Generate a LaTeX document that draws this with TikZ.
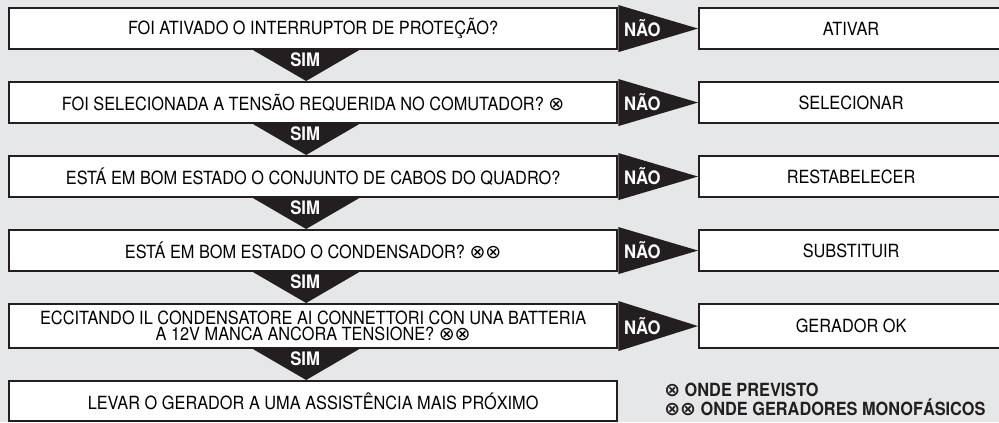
\documentclass[tikz,border=0pt]{standalone}
\usepackage{fontspec}
\setmainfont{TeX Gyre Heros}[FakeStretch=0.9]
\newfontfamily\symbfont{DejaVu Sans}
\usetikzlibrary{calc}

\definecolor{bggray}{HTML}{E6E7E8}
\definecolor{inkblack}{HTML}{231F20}

\newcommand\cross{{\symbfont\fontsize{13.5}{12}\selectfont\char"2297}}

\tikzset{
  question/.style={
    draw=inkblack,
    line width=1.5pt,
    fill=white,
    anchor=north west,
    minimum width=15.2cm,
    minimum height=1.025cm,
    inner sep=0pt,
    align=center,
    font=\fontsize{12.9}{11.6}\selectfont
  },
  action/.style={question, minimum width=7.6cm},
  arrowfill/.style={fill=inkblack},
  arrowlabel/.style={
    text=white,
    inner sep=0pt,
    font=\bfseries\fontsize{13.2}{12}\selectfont
  },
  note/.style={
    anchor=base west,
    inner sep=0pt,
    text=inkblack,
    font=\bfseries\fontsize{12.9}{13}\selectfont
  }
}

\begin{document}
\begin{tikzpicture}[
  x=0.025cm,
  y=-0.025cm,
  line join=miter
]
  % Fundo
  \clip (0,0) rectangle (999,422);
  \fill[bggray] (0,0) rectangle (999,422);

  % Perguntas
  \node[question] (q1) at (8,7)
    {FOI ATIVADO O INTERRUPTOR DE PROTEÇÃO?};
  \node[question] (q2) at (8,81)
    {FOI SELECIONADA A TENSÃO REQUERIDA NO COMUTADOR? \cross};
  \node[question] (q3) at (8,155)
    {ESTÁ EM BOM ESTADO O CONJUNTO DE CABOS DO QUADRO?};
  \node[question] (q4) at (8,229)
    {ESTÁ EM BOM ESTADO O CONDENSADOR? \cross\cross};
  \node[question, minimum height=1.1cm] (q5) at (8,303)
    {ECCITANDO IL CONDENSATORE AI CONNETTORI CON UNA BATTERIA\\
     A 12V MANCA ANCORA TENSIONE? \cross\cross};
  \node[question, minimum height=1cm] (q6) at (8,380)
    {LEVAR O GERADOR A UMA ASSISTÊNCIA MAIS PRÓXIMO};

  % Ações
  \node[action] (a1) at (698,7) {ATIVAR};
  \node[action] (a2) at (698,81) {SELECIONAR};
  \node[action] (a3) at (698,155) {RESTABELECER};
  \node[action] (a4) at (698,229) {SUBSTITUIR};
  \node[action, minimum height=1.1cm] (a5) at (698,303) {GERADOR OK};

  % Setas SIM
  \fill[arrowfill]
    ($(q1.south)+(-60,0)$) -- ($(q1.south)+(46,0)$)
    -- ($(q2.north)+(-7,0)$) -- cycle;
  \fill[arrowfill]
    ($(q2.south)+(-60,0)$) -- ($(q2.south)+(46,0)$)
    -- ($(q3.north)+(-7,0)$) -- cycle;
  \fill[arrowfill]
    ($(q3.south)+(-60,0)$) -- ($(q3.south)+(46,0)$)
    -- ($(q4.north)+(-7,0)$) -- cycle;
  \fill[arrowfill]
    ($(q4.south)+(-60,0)$) -- ($(q4.south)+(46,0)$)
    -- ($(q5.north)+(-7,0)$) -- cycle;
  \fill[arrowfill]
    ($(q5.south)+(-60,0)$) -- ($(q5.south)+(46,0)$)
    -- ($(q6.north)+(-7,0)$) -- cycle;

  \node[arrowlabel] (s1) at ($(q1.south)+(-8,10)$) {SIM};
  \node[arrowlabel] (s2) at ($(q2.south)+(-8,10)$) {SIM};
  \node[arrowlabel] (s3) at ($(q3.south)+(-8,10)$) {SIM};
  \node[arrowlabel] (s4) at ($(q4.south)+(-8,10)$) {SIM};
  \node[arrowlabel] (s5) at ($(q5.south)+(-8,10)$) {SIM};

  % Setas NÃO
  \fill[arrowfill]
    ($(q1.north east)+(0,-2)$) -- ($(q1.south east)+(0,2)$)
    -- (a1.west) -- cycle;
  \fill[arrowfill]
    ($(q2.north east)+(0,-2)$) -- ($(q2.south east)+(0,2)$)
    -- (a2.west) -- cycle;
  \fill[arrowfill]
    ($(q3.north east)+(0,-2)$) -- ($(q3.south east)+(0,2)$)
    -- (a3.west) -- cycle;
  \fill[arrowfill]
    ($(q4.north east)+(0,-2)$) -- ($(q4.south east)+(0,2)$)
    -- (a4.west) -- cycle;
  \fill[arrowfill]
    ($(q5.north east)+(0,-2)$) -- ($(q5.south east)+(0,2)$)
    -- (a5.west) -- cycle;

  \node[arrowlabel] (n1) at ($(q1.east)+(24,0)$) {NÃO};
  \node[arrowlabel] (n2) at ($(q2.east)+(24,0)$) {NÃO};
  \node[arrowlabel] (n3) at ($(q3.east)+(24,0)$) {NÃO};
  \node[arrowlabel] (n4) at ($(q4.east)+(24,0)$) {NÃO};
  \node[arrowlabel] (n5) at ($(q5.east)+(24,0)$) {NÃO};

  % Notas
  \node[note] (nt1) at (664,396) {\cross{} ONDE PREVISTO};
  \node[note] (nt2) at (664,415) {\cross\cross{} ONDE GERADORES MONOFÁSICOS};
\end{tikzpicture}
\end{document}
